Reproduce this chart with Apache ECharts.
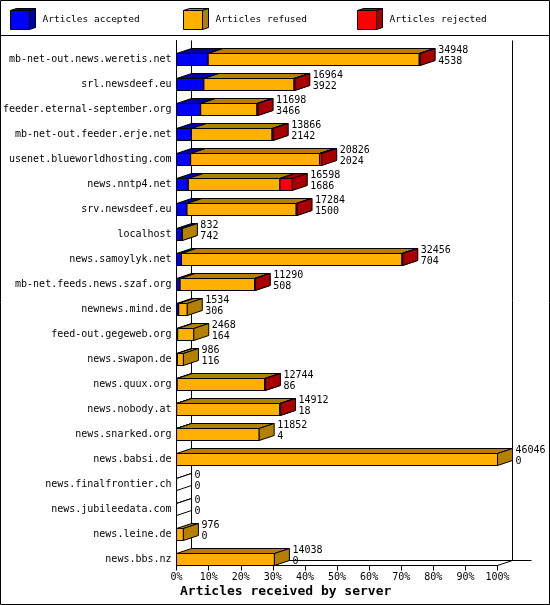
<!DOCTYPE html>
<html>
<head>
<meta charset="utf-8">
<title>Articles received by server</title>
<script src="https://cdn.jsdelivr.net/npm/echarts@6/dist/echarts.min.js"></script>
<style>
html, body { margin: 0; padding: 0; background: #fff; }
#main { width: 550px; height: 605px; }
</style>
</head>
<body>
<div id="main"></div>
<script type="text/javascript">
// servers, top to bottom
var servers = [
  'mb-net-out.news.weretis.net', 'srl.newsdeef.eu', 'feeder.eternal-september.org',
  'mb-net-out.feeder.erje.net', 'usenet.blueworldhosting.com', 'news.nntp4.net',
  'srv.newsdeef.eu', 'localhost', 'news.samoylyk.net', 'mb-net.feeds.news.szaf.org',
  'newnews.mind.de', 'feed-out.gegeweb.org', 'news.swapon.de', 'news.quux.org',
  'news.nobody.at', 'news.snarked.org', 'news.babsi.de', 'news.finalfrontier.ch',
  'news.jubileedata.com', 'news.leine.de', 'news.bbs.nz'
];
// first label line (all articles offered)
var offered  = [34948, 16964, 11698, 13866, 20826, 16598, 17284, 832, 32456, 11290, 1534, 2468, 986, 12744, 14912, 11852, 46046, 0, 0, 976, 14038];
// second label line
var accepted = [4538, 3922, 3466, 2142, 2024, 1686, 1500, 742, 704, 508, 306, 164, 116, 86, 18, 4, 0, 0, 0, 0, 0];
var refused  = [30290, 12942, 8082, 11574, 18482, 13152, 15674, 90, 31652, 10692, 1228, 2304, 870, 12578, 14794, 11848, 46046, 0, 0, 976, 14038];
var rejected = [120, 100, 150, 150, 320, 1760, 110, 0, 100, 90, 0, 0, 0, 80, 100, 0, 0, 0, 0, 0, 0];

var seriesNames = ['Articles accepted', 'Articles refused', 'Articles rejected'];
var colFront = ['#0000ff', '#ffb000', '#ff0000'];
var colShade = ['#0000a8', '#b38000', '#a80000'];

var FONT = '"DejaVu Sans Mono", "Liberation Mono", monospace';
var GL = 176.5, GT = 40.5, GW = 321, GH = 525;   // front plane of the plot
var DX = 15, DY = 5, FRONT_H = 12;               // 3d depth and bar face height

var maxOffered = Math.max.apply(null, offered);
var SCALE = 100 / maxOffered;

var rows = [];
for (var i = 0; i < servers.length; i++) {
  rows.push([i, accepted[i], refused[i], rejected[i], offered[i]]);
}

function renderBars(params, api) {
  var i = api.value(0);
  var vals = [api.value(1), api.value(2), api.value(3)];
  var total = api.value(4);
  var c = api.coord([0, i]);
  var band = api.size([0, 1])[1];
  var yb = c[1] + band / 2;
  var yt = yb - FRONT_H;
  var kids = [];

  function box(xa, xb, front, shade) {
    kids.push({ type: 'polygon',
      shape: { points: [[xa, yt], [xb, yt], [xb + DX, yt - DY], [xa + DX, yt - DY]] },
      style: { fill: shade, stroke: '#000', lineWidth: 1 } });
    kids.push({ type: 'rect',
      shape: { x: xa, y: yt, width: xb - xa, height: FRONT_H },
      style: { fill: front, stroke: '#000', lineWidth: 1 } });
    kids.push({ type: 'polygon',
      shape: { points: [[xb, yt], [xb + DX, yt - DY], [xb + DX, yb - DY], [xb, yb]] },
      style: { fill: shade, stroke: '#000', lineWidth: 1 } });
  }

  if (total === 0) box(c[0], c[0], '#fff', '#fff');
  var acc = 0;
  for (var k = 0; k < 3; k++) {
    if (vals[k] <= 0) continue;
    var xa = api.coord([acc * SCALE, i])[0];
    acc += vals[k];
    var xb = api.coord([acc * SCALE, i])[0];
    box(xa, xb, colFront[k], colShade[k]);
  }
  var xe = api.coord([total * SCALE, i])[0];
  kids.push({ type: 'text',
    style: { text: total + '\n' + vals[0], x: xe + DX + 3, y: c[1] + 3,
      verticalAlign: 'middle', align: 'left', lineHeight: 11,
      font: '10px ' + FONT, fill: '#000' } });
  return { type: 'group', children: kids };
}

// frame, back walls, legend
var gfx = [
  { type: 'rect', shape: { x: 0.5, y: 0.5, width: 549, height: 604 }, style: { fill: 'none', stroke: '#000', lineWidth: 1 } },
  { type: 'line', shape: { x1: 0, y1: 35.5, x2: 550, y2: 35.5 }, style: { stroke: '#000', lineWidth: 1 } },
  { type: 'line', shape: { x1: GL + DX, y1: GT, x2: GL + DX, y2: GT + GH - DY }, style: { stroke: '#000', lineWidth: 1 } },
  { type: 'line', shape: { x1: GL + GW + DX, y1: GT, x2: GL + GW + DX, y2: GT + GH - DY }, style: { stroke: '#000', lineWidth: 1 } },
  { type: 'line', shape: { x1: GL + DX, y1: GT + GH - DY, x2: GL + GW + DX + 19, y2: GT + GH - DY }, style: { stroke: '#000', lineWidth: 1 } },
  { type: 'line', shape: { x1: GL, y1: GT + GH, x2: GL + DX, y2: GT + GH - DY }, style: { stroke: '#000', lineWidth: 1 } },
  { type: 'line', shape: { x1: GL + GW, y1: GT + GH, x2: GL + GW + DX, y2: GT + GH - DY }, style: { stroke: '#000', lineWidth: 1 } },
  { type: 'text', x: 180, y: 592, style: { text: 'Articles received by server', font: 'bold 13px ' + FONT, fill: '#000', verticalAlign: 'middle' } }
];
var legendX = [10.5, 183.5, 357.5];
for (var k = 0; k < 3; k++) {
  var lx = legendX[k], ly = 10.5, s = 19, d = 6, e = 2;
  gfx.push({ type: 'polygon', shape: { points: [[lx, ly], [lx + s, ly], [lx + s + d, ly - e], [lx + d, ly - e]] }, style: { fill: colShade[k], stroke: '#000', lineWidth: 1 } });
  gfx.push({ type: 'polygon', shape: { points: [[lx + s, ly], [lx + s + d, ly - e], [lx + s + d, ly + s - e], [lx + s, ly + s]] }, style: { fill: colShade[k], stroke: '#000', lineWidth: 1 } });
  gfx.push({ type: 'rect', shape: { x: lx, y: ly, width: s, height: s }, style: { fill: colFront[k], stroke: '#000', lineWidth: 1 } });
  gfx.push({ type: 'text', x: lx + 32, y: 20, style: { text: seriesNames[k], font: '9.5px ' + FONT, fill: '#000', verticalAlign: 'middle' } });
}

var chart = echarts.init(document.getElementById('main'), null, { renderer: 'canvas' });
chart.setOption({
  animation: false,
  backgroundColor: '#fff',
  grid: { left: GL, top: GT, width: GW, height: GH },
  xAxis: {
    type: 'value', min: 0, max: 100, interval: 10,
    splitLine: { show: false },
    axisLine: { show: true, lineStyle: { color: '#000', width: 1 } },
    axisTick: { show: true, length: 5, lineStyle: { color: '#000' } },
    axisLabel: { formatter: '{value}%', color: '#000', fontFamily: FONT, fontSize: 10, margin: 7 }
  },
  yAxis: {
    type: 'category', inverse: true, data: servers,
    axisLine: { show: true, lineStyle: { color: '#000', width: 1 } },
    axisTick: { show: false },
    splitLine: { show: false },
    // labels sit level with the bar fronts, not the band centre
    axisLabel: { color: '#000', fontFamily: FONT, fontSize: 10, margin: 5, interval: 0,
      verticalAlign: 'top', lineHeight: 13 }
  },
  graphic: { elements: gfx },
  series: [{
    type: 'custom',
    name: 'servers',
    renderItem: renderBars,
    encode: { y: 0, x: 4 },
    clip: false,
    z: 3,
    data: rows
  }]
});
</script>
</body>
</html>
